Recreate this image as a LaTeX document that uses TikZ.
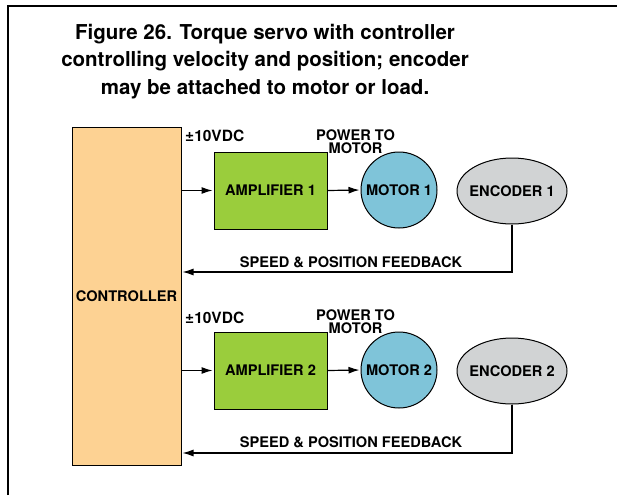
\documentclass[tikz,border=0pt]{standalone}
\usepackage{fontspec}
\setmainfont{TeX Gyre Heros}
\usetikzlibrary{shapes.geometric,arrows.meta}
\definecolor{ctrlfill}{RGB}{253,210,147}
\definecolor{ampfill}{RGB}{154,205,60}
\definecolor{motfill}{RGB}{127,196,217}
\definecolor{encfill}{RGB}{209,211,212}
\tikzset{
  lbl/.style={font=\bfseries\fontsize{14.6}{13}\selectfont, inner sep=0pt, text=black},
  ttl/.style={font=\bfseries\fontsize{20.5}{27}\selectfont, inner sep=0pt, anchor=base},
  ctrlbox/.style={draw=black, line width=1pt, fill=ctrlfill, minimum width=109pt, minimum height=338pt, inner sep=0pt},
  ampbox/.style={draw=black, line width=1pt, fill=ampfill, minimum width=113pt, minimum height=77pt, inner sep=0pt},
  motbox/.style={draw=black, line width=1pt, fill=motfill, circle, minimum size=76pt, inner sep=0pt},
  encbox/.style={draw=black, line width=1pt, fill=encfill, ellipse, minimum width=110pt, minimum height=66pt, inner sep=0pt},
  arr/.style={line width=1.2pt, shorten >=1pt, -{Latex[length=11pt,width=7pt]}},
}
\begin{document}
\begin{tikzpicture}[x=1pt,y=-1pt]
\useasboundingbox (0,0) rectangle (617,495);
% frame
\draw[line width=2pt] (8,495) -- (8,6) -- (617,6);
% title
\node[ttl] (title1) at (265,39) {Figure 26. Torque servo with controller};
\node[ttl] (title2) at (265,66.5) {controlling velocity and position; encoder};
\node[ttl] (title3) at (265,94) {may be attached to motor or load.};
% controller
\node[ctrlbox] (ctrl) at (126.5,296) {};
\node[lbl] (ctrllbl) at (ctrl.center) {CONTROLLER};
% row 1
\node[ampbox] (amp1) at (270.5,190.5) {};
\node[lbl] (amp1lbl) at (amp1.center) {AMPLIFIER 1};
\node[motbox] (mot1) at (399,190) {};
\node[lbl] (mot1lbl) at (mot1.center) {MOTOR 1};
\node[encbox] (enc1) at (512,191) {};
\node[lbl] (enc1lbl) at (enc1.center) {ENCODER 1};
\node[lbl, anchor=west, font=\bfseries\fontsize{15.5}{15}\selectfont] (v1) at (185,136) {±10VDC};
\node[lbl] (p1a) at (355.5,135) {POWER TO};
\node[lbl] (p1b) at (355.5,148.5) {MOTOR};
\coordinate (fb1) at (ctrl.east |- 0,272);
\draw[arr] (ctrl.east |- amp1.west) -- (amp1.west);
\draw[arr] (amp1.east) -- (mot1.west);
\draw[arr] (enc1.south) |- (fb1);
\node[lbl] (fbl1) at (351,262) {SPEED \& POSITION FEEDBACK};
% row 2
\node[ampbox] (amp2) at (270.5,370.5) {};
\node[lbl] (amp2lbl) at (amp2.center) {AMPLIFIER 2};
\node[motbox] (mot2) at (399,370) {};
\node[lbl] (mot2lbl) at (mot2.center) {MOTOR 2};
\node[encbox] (enc2) at (512,371) {};
\node[lbl] (enc2lbl) at (enc2.center) {ENCODER 2};
\node[lbl, anchor=west, font=\bfseries\fontsize{15.5}{15}\selectfont] (v2) at (185,318) {±10VDC};
\node[lbl] (p2a) at (355.5,315) {POWER TO};
\node[lbl] (p2b) at (355.5,328.5) {MOTOR};
\coordinate (fb2) at (ctrl.east |- 0,453);
\draw[arr] (ctrl.east |- amp2.west) -- (amp2.west);
\draw[arr] (amp2.east) -- (mot2.west);
\draw[arr] (enc2.south) |- (fb2);
\node[lbl] (fbl2) at (351,442) {SPEED \& POSITION FEEDBACK};
\end{tikzpicture}
\end{document}
